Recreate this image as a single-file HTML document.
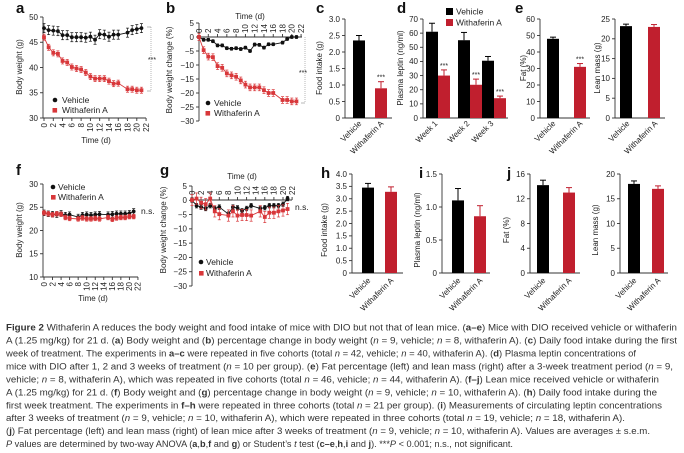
<!DOCTYPE html>
<html><head><meta charset="utf-8"><style>
html,body{margin:0;padding:0;background:#fff;}
svg{display:block;font-family:"Liberation Sans",sans-serif;}
</style></head><body>
<svg id="s" width="684" height="453" viewBox="0 0 684 453" xmlns="http://www.w3.org/2000/svg"></svg>
<script>
const S=document.getElementById('s');let h='';
const R='#d8373a',RB='#c01f2e',G='#333';
function t(x,y,s,o={}){h+=`<text x="${x}" y="${y}" font-size="${o.fs||8}" ${o.a?`text-anchor="${o.a}"`:''} ${o.rot!=null?`transform="rotate(${o.rot} ${x} ${y})"`:''} fill="${o.c||'#222'}" ${o.fw?`font-weight="${o.fw}"`:''}>${s}</text>`;}
function l(x1,y1,x2,y2,c=G,w=0.9,d=''){h+=`<line x1="${x1}" y1="${y1}" x2="${x2}" y2="${y2}" stroke="${c}" stroke-width="${w}" ${d?`stroke-dasharray="${d}"`:''}/>`;}
function r(x,y,w,hh,c){h+=`<rect x="${x}" y="${y}" width="${w}" height="${hh}" fill="${c}"/>`;}
function lab(x,y,s){t(x,y,s,{fs:15,fw:'bold',c:'#111'});}
function yax(x,y0,y1,v0,v1,ticks,fmt){l(x,y0,x,y1);ticks.forEach(v=>{const y=y0+(v-v0)/(v1-v0)*(y1-y0);l(x-3,y,x,y);t(x-5,y+2.8,fmt?fmt(v):v,{a:'end'});});}
function ylab(x,yc,s){t(x,yc,s,{a:'middle',rot:-90});}
function bars(ax,top,bot,vmax,ticks,end,bs,fmt){
 yax(ax,bot,top,0,vmax,ticks,fmt);l(ax,bot,end,bot);
 bs.forEach(b=>{const y=bot-b.v/vmax*(bot-top),ey=bot-(b.v+b.e)/vmax*(bot-top);
  l(b.x+b.w/2,y,b.x+b.w/2,ey,b.c,1);l(b.x+b.w/2-3,ey,b.x+b.w/2+3,ey,b.c,1);r(b.x,y,b.w,bot-y,b.c);
  if(b.st)t(b.x+b.w/2,ey-2,'***',{a:'middle',fs:7});});
}
function xl(x,y,s){t(x,y,s,{a:'end',rot:-45});}
function line(x0,sx,yf,days,data,err,c,mk){
 let p=days.map((d,i)=>`${x0+d*sx},${yf(data[i])}`).join(' ');
 h+=`<polyline points="${p}" fill="none" stroke="${c}" stroke-width="0.9"/>`;
 days.forEach((d,i)=>{const x=x0+d*sx,y=yf(data[i]);const e=Math.abs(yf(data[i]+err)-y);l(x,y-e,x,y+e,c,0.7);l(x-1.5,y-e,x+1.5,y-e,c,0.7);l(x-1.5,y+e,x+1.5,y+e,c,0.7);
  if(mk=='c')h+=`<circle cx="${x}" cy="${y}" r="1.9" fill="${c}"/>`;else r(x-1.9,y-1.9,3.8,3.8,c);});
}
const D1=[0,1,2,3,4,5,6,7,8,9,10,11,12,13,14,15,16,18,19,20,21];
lab(16,13,'a');
{const fy=v=>118-(v-30)/20*101;yax(43,118,17,30,50,[30,35,40,45,50]);l(43,118,146,118);
for(let d=0;d<=22;d+=2){const x=44+d*4.64;l(x,118,x,121);t(x+2.8,123,d,{a:'end',rot:-90});}
t(96,143,'Time (d)',{a:'middle'});ylab(22,67,'Body weight (g)');
line(44,4.64,fy,D1,[47.8,47.4,47.3,47.2,46.4,46.4,46,46,46,45.9,46.1,45.5,46.6,46.5,46.1,46.5,46.5,46.9,47.4,47.6,47.8],0.9,'#111','c');
line(44,4.64,fy,D1,[46,44,42.9,42.7,41.3,41,40.1,39.8,39.6,39,38.2,37.8,37.8,37.8,37.3,36.8,36.9,35.7,35.7,35.5,35.5],0.6,R,'s');
l(151,27,151,91,'#888',0.6,'1,1');l(147,27,151,27,'#888',0.6);l(147,91,151,91,'#888',0.6);t(152,62,'***',{a:'middle',fs:7});
h+=`<circle cx="55" cy="100" r="2.3" fill="#111"/>`;t(62,103,'Vehicle',{fs:8.5});r(52.5,108,4.6,4.6,R);t(62,113,'Withaferin A',{fs:8.5});}
lab(166,13,'b');
{const fy=v=>37-v*2.8;yax(199,121,23,-30,5,[5,0,-5,-10,-15,-20,-25,-30],v=>v<0?'−'+(-v):v);l(199,37,302,37);
for(let d=0;d<=22;d+=2){const x=199+d*4.64;l(x,34,x,37);t(x+2.8,33,d,{a:'start',rot:-90});}
t(250,19,'Time (d)',{a:'middle'});ylab(172,70,'Body weight change (%)');
line(199,4.64,fy,D1,[0,-1,-1,-1.5,-3,-3,-4,-4.2,-4,-4.3,-3.8,-5,-2.7,-2.8,-3.8,-2.6,-2.6,-2,-0.7,0,0],0.5,'#111','c');
line(199,4.64,fy,D1,[0,-4.7,-7,-7.2,-10.4,-11,-13,-13.7,-14.2,-15.5,-17,-18,-18,-18,-19,-20,-20,-22.5,-22.5,-23,-23],1.2,R,'s');
l(305,37,305,103,'#888',0.6,'1,1');l(301,103,305,103,'#888',0.6);t(303,75,'***',{a:'middle',fs:7});
h+=`<circle cx="208" cy="103" r="2.3" fill="#111"/>`;t(214,106,'Vehicle',{fs:8.5});r(205.5,111,4.6,4.6,R);t(214,116,'Withaferin A',{fs:8.5});}
lab(316,13,'c');
bars(345,19,118,3,[0,0.5,1,1.5,2,2.5,3],392,[{x:353,w:12,v:2.35,e:0.15,c:'#000'},{x:375,w:12,v:0.9,e:0.2,c:RB,st:1}],v=>v==0?'0':v.toFixed(1));
ylab(322,68,'Food intake (g)');xl(362,124,'Vehicle');xl(384,124,'Withaferin A');
lab(397,13,'d');
bars(423,19,118,70,[0,10,20,30,40,50,60,70],508,[{x:426,w:12,v:61,e:6,c:'#000'},{x:438,w:12,v:30,e:4,c:RB,st:1},{x:458,w:12,v:55,e:5.5,c:'#000'},{x:470,w:12,v:23.5,e:4,c:RB,st:1},{x:482,w:12,v:40.5,e:3,c:'#000'},{x:494,w:12,v:14,e:1.5,c:RB,st:1}]);
ylab(403,68,'Plasma leptin (ng/ml)');xl(438,124,'Week 1');xl(470,124,'Week 2');xl(494,124,'Week 3');
r(446,8,7,7,'#000');t(456,14.5,'Vehicle',{fs:8.5});r(446,19,7,7,RB);t(456,25.5,'Withaferin A',{fs:8.5});
lab(515,13,'e');
bars(540,19,118,60,[0,10,20,30,40,50,60],590,[{x:547,w:12,v:48,e:1,c:'#000'},{x:574,w:12,v:31,e:2,c:RB,st:1}]);
ylab(526,68,'Fat (%)');xl(556,124,'Vehicle');xl(583,124,'Withaferin A');
bars(615,19,118,25,[0,5,10,15,20,25],665,[{x:620,w:12,v:23.2,e:0.5,c:'#000'},{x:648,w:12,v:23,e:0.6,c:RB}]);
ylab(600,68,'Lean mass (g)');xl(630,124,'Vehicle');xl(658,124,'Withaferin A');
lab(16,175,'f');
{const fy=v=>277-(v-10)/20*93;yax(43,277,184,10,30,[10,15,20,25,30]);l(43,277,138,277);
for(let d=0;d<=22;d+=2){const x=44+d*4.27;l(x,277,x,280);t(x+2.8,282,d,{a:'end',rot:-90});}
t(93,301,'Time (d)',{a:'middle'});ylab(22,230,'Body weight (g)');
const D2=[0,1,2,3,4,5,6,8,9,10,11,12,13,15,16,17,18,19,20,21];
line(44,4.27,fy,D2,[23.8,23.6,23.5,23.4,23.7,23.3,23.4,22.9,23.3,23.4,23.3,23.4,23.5,23.4,23.5,23.6,23.6,23.6,23.7,24.1],0.6,'#111','c');
line(44,4.27,fy,D2,[23.8,23.6,23.4,23.6,23.5,22.8,22.6,22.5,22.7,22.5,22.5,22.6,22.5,22.8,22.4,22.7,22.8,22.8,23,23],0.5,R,'s');
t(141,214,'n.s.',{fs:8.5});
h+=`<circle cx="53" cy="187" r="2.3" fill="#111"/>`;t(58,190,'Vehicle',{fs:8.5});r(51,195,4.6,4.6,R);t(58,200,'Withaferin A',{fs:8.5});
lab(160,175,'g');
const gy=v=>200-v*2.83;yax(192,286,186,-30,5,[5,0,-5,-10,-15,-20,-25,-30],v=>v<0?'−'+(-v):v);l(192,200,292,200);
for(let d=0;d<=22;d+=2){const x=192+d*4.55;l(x,197,x,200);t(x+2.8,195,d,{a:'start',rot:-90});}
t(242,179,'Time (d)',{a:'middle'});ylab(166,230,'Body weight change (%)');
line(192,4.55,gy,D2,[0,-2,-2.5,-3,-2,-3,-2.5,-5,-2.5,-2.8,-3.8,-3,-2,-3,-2.7,-2,-2,-2,-1.5,0.5],0.8,'#111','c');
line(192,4.55,gy,D2,[0,0.5,-1,-1.5,0.5,-4,-5,-5.5,-4,-5.5,-5.3,-5.3,-5.5,-4,-6,-4.5,-4.5,-4,-3.7,-3.2],2,R,'s');
t(295,210,'n.s.',{fs:8.5});
h+=`<circle cx="201" cy="262" r="2.3" fill="#111"/>`;t(206,265,'Vehicle',{fs:8.5});r(199,271,4.6,4.6,R);t(206,276,'Withaferin A',{fs:8.5});}
lab(321,178,'h');
bars(352,174,273,4,[0,0.5,1,1.5,2,2.5,3,3.5,4],403,[{x:362,w:12,v:3.45,e:0.17,c:'#000'},{x:385,w:12,v:3.28,e:0.2,c:RB}],v=>v==0?'0':v.toFixed(1));
ylab(327,230,'Food intake (g)');xl(371,281,'Vehicle');xl(394,281,'Withaferin A');
lab(419,178,'i');
bars(442,174,273,1.5,[0,0.5,1,1.5],490,[{x:452,w:12,v:1.1,e:0.18,c:'#000'},{x:474,w:12,v:0.86,e:0.16,c:RB}],v=>v==0?'0':v.toFixed(1));
ylab(420,230,'Plasma leptin (ng/ml)');xl(461,281,'Vehicle');xl(483,281,'Withaferin A');
lab(507,178,'j');
bars(530,174,273,16,[0,4,8,12,16],580,[{x:537,w:12,v:14.2,e:0.8,c:'#000'},{x:563,w:12,v:13,e:0.8,c:RB}]);
ylab(509,230,'Fat (%)');xl(546,281,'Vehicle');xl(572,281,'Withaferin A');
bars(620,174,273,20,[0,5,10,15,20],668,[{x:628,w:12,v:18,e:0.6,c:'#000'},{x:652,w:12,v:17,e:0.6,c:RB}]);
ylab(598,230,'Lean mass (g)');xl(637,281,'Vehicle');xl(661,281,'Withaferin A');
const I=s=>`<tspan font-style="italic">${s}</tspan>`,B=s=>`<tspan font-weight="bold">${s}</tspan>`;
const cap=[
[B('Figure 2')+'  Withaferin A reduces the body weight and food intake of mice with DIO but not that of lean mice. ('+B('a–e')+') Mice with DIO received vehicle or withaferin',677],
['A (1.25 mg/kg) for 21 d. ('+B('a')+') Body weight and ('+B('b')+') percentage change in body weight ('+I('n')+' = 9, vehicle; '+I('n')+' = 8, withaferin A). ('+B('c')+') Daily food intake during the first',677],
['week of treatment. The experiments in '+B('a–c')+' were repeated in five cohorts (total '+I('n')+' = 42, vehicle; '+I('n')+' = 40, withaferin A). ('+B('d')+') Plasma leptin concentrations of',636],
['mice with DIO after 1, 2 and 3 weeks of treatment ('+I('n')+' = 10 per group). ('+B('e')+') Fat percentage (left) and lean mass (right) after a 3-week treatment period ('+I('n')+' = 9,',673],
['vehicle; '+I('n')+' = 8, withaferin A), which was repeated in five cohorts (total '+I('n')+' = 46, vehicle; '+I('n')+' = 44, withaferin A). ('+B('f–j')+') Lean mice received vehicle or withaferin',659],
['A (1.25 mg/kg) for 21 d. ('+B('f')+') Body weight and ('+B('g')+') percentage change in body weight ('+I('n')+' = 9, vehicle; '+I('n')+' = 10, withaferin A). ('+B('h')+') Daily food intake during the',657],
['first week treatment. The experiments in '+B('f–h')+' were repeated in three cohorts (total '+I('n')+' = 21 per group). ('+B('i')+') Measurements of circulating leptin concentrations',662],
['after 3 weeks of treatment ('+I('n')+' = 9, vehicle; '+I('n')+' = 10, withaferin A), which were repeated in three cohorts (total '+I('n')+' = 19, vehicle; '+I('n')+' = 18, withaferin A).',625],
['('+B('j')+') Fat percentage (left) and lean mass (right) of lean mice after 3 weeks of treatment ('+I('n')+' = 9, vehicle; '+I('n')+' = 10, withaferin A). Values are averages ± s.e.m.',650],
[I('P')+' values are determined by two-way ANOVA ('+B('a')+','+B('b')+','+B('f')+' and '+B('g')+') or Student’s '+I('t')+' test ('+B('c–e')+','+B('h')+','+B('i')+' and '+B('j')+'). ***'+I('P')+' &lt; 0.001; n.s., not significant.',513]];
cap.forEach((c,i)=>{h+=`<text x="6" y="${330.5+i*12.96}" font-size="9.6" fill="#333" textLength="${c[1]-6}" lengthAdjust="spacingAndGlyphs">${c[0]}</text>`;});
S.innerHTML=h;
</script>
</body></html>
